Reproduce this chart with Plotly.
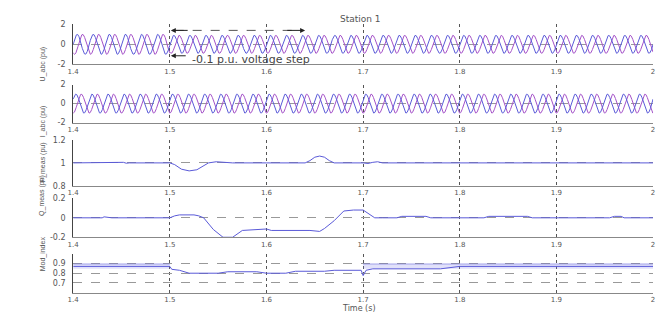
import numpy as np
import plotly.graph_objects as go

# ---- time base and sinusoidal quantities (60 Hz, per-unit) ----
t_start, t_end = 1.4, 2.0
f_hz = 60.0
t_step = 1.5                      # voltage step instant
u_amp_before, u_amp_after = 1.0, 0.9
i_amp = 1.0
phase_a, phase_b = 0.0, -2 * np.pi / 3

t = np.linspace(t_start, t_end, 4000)
u_amp = np.where(t < t_step, u_amp_before, u_amp_after)
u_a = u_amp * np.sin(2 * np.pi * f_hz * t + phase_a)
u_b = u_amp * np.sin(2 * np.pi * f_hz * t + phase_b)
i_a = i_amp * np.sin(2 * np.pi * f_hz * t + phase_a + 0.5)
i_b = i_amp * np.sin(2 * np.pi * f_hz * t + phase_b + 0.5)

# ---- measured active power (pu) ----
p_t = [1.40, 1.45, 1.452, 1.455, 1.458, 1.50, 1.505, 1.512, 1.52, 1.528, 1.535, 1.54,
       1.548, 1.555, 1.565, 1.60, 1.64, 1.645, 1.65, 1.655, 1.66, 1.665, 1.67, 1.70,
       1.705, 1.71, 1.715, 1.72, 1.73, 2.0]
p_v = [1.0, 1.0, 1.005, 0.997, 1.0, 1.0, 0.985, 0.945, 0.93, 0.94, 0.975, 1.0,
       1.01, 1.008, 1.0, 1.0, 1.0, 1.02, 1.05, 1.06, 1.05, 1.02, 1.0, 1.0,
       0.995, 1.005, 1.01, 1.0, 1.0, 1.0]

# ---- measured reactive power (pu) ----
q_t = [1.40, 1.43, 1.432, 1.436, 1.44, 1.50, 1.505, 1.51, 1.525, 1.53, 1.535, 1.545,
       1.555, 1.565, 1.575, 1.60, 1.605, 1.645, 1.655, 1.66, 1.67, 1.68, 1.69, 1.70,
       1.705, 1.712, 1.72, 1.735, 1.74, 1.765, 1.77, 1.825, 1.83, 1.87, 1.875, 1.955,
       1.96, 1.967, 1.97, 2.0]
q_v = [0.0, 0.0, 0.01, 0.005, 0.0, 0.0, 0.02, 0.03, 0.03, 0.02, 0.0, -0.12,
       -0.2, -0.2, -0.13, -0.115, -0.13, -0.13, -0.14, -0.11, -0.03, 0.07, 0.08, 0.08,
       0.05, 0.0, 0.0, 0.0, 0.015, 0.015, 0.0, 0.0, 0.015, 0.015, 0.0, 0.0,
       0.015, 0.015, 0.0, 0.0]

# ---- modulation index ----
m_t = [1.40, 1.50, 1.502, 1.51, 1.52, 1.55, 1.56, 1.59, 1.60, 1.62, 1.63, 1.66,
       1.67, 1.698, 1.70, 1.703, 1.71, 1.78, 1.80, 2.0]
m_v = [0.87, 0.87, 0.84, 0.83, 0.80, 0.80, 0.815, 0.815, 0.80, 0.80, 0.82, 0.82,
       0.83, 0.83, 0.775, 0.83, 0.845, 0.845, 0.87, 0.87]
# ripple envelope of the modulation index (start, end, lower, upper)
m_bands = [(1.40, 1.50, 0.845, 0.895), (1.70, 2.00, 0.845, 0.895)]

x_ticks = [1.4, 1.5, 1.6, 1.7, 1.8, 1.9, 2.0]
x_ticktext = ["1.4", "1.5", "1.6", "1.7", "1.8", "1.9", "2"]

panels = [
    dict(title="U_abc (pu)", yrange=[-2, 2], yticks=[-2, 0, 2], ytext=["-2", "0", "2"], dom=(62, 21)),
    dict(title="I_abc (pu)", yrange=[-2, 2], yticks=[-2, 0, 2], ytext=["-2", "0", "2"], dom=(122, 83)),
    dict(title="P_meas (pu)", yrange=[0.8, 1.2], yticks=[0.8, 1.0, 1.2], ytext=["0.8", "1", "1.2"], dom=(187, 140)),
    dict(title="Q_meas (pu)", yrange=[-0.2, 0.2], yticks=[-0.2, 0, 0.2], ytext=["-0.2", "0", "0.2"], dom=(240, 200)),
    dict(title="Mod_index", yrange=[0.6, 1.0], yticks=[0.7, 0.8, 0.9], ytext=["0.7", "0.8", "0.9"], dom=(297, 257)),
]

W, H = 661, 320
X0, X1 = 68, 655
FONT = "DejaVu Sans"
BLUE = "#5a5ad8"
PURPLE = "#a452c8"

fig = go.Figure()


def add(trace, k):
    trace.update(xaxis="x" if k == 1 else f"x{k}", yaxis="y" if k == 1 else f"y{k}")
    fig.add_trace(trace)


add(go.Scatter(x=t, y=u_b, mode="lines", line=dict(color=PURPLE, width=1)), 1)
add(go.Scatter(x=t, y=u_a, mode="lines", line=dict(color=BLUE, width=1)), 1)
add(go.Scatter(x=t, y=i_b, mode="lines", line=dict(color=PURPLE, width=1)), 2)
add(go.Scatter(x=t, y=i_a, mode="lines", line=dict(color=BLUE, width=1)), 2)
add(go.Scatter(x=p_t, y=p_v, mode="lines", line=dict(color=BLUE, width=1)), 3)
add(go.Scatter(x=q_t, y=q_v, mode="lines", line=dict(color=BLUE, width=1)), 4)
for b0, b1, lo, hi in m_bands:
    add(go.Scatter(x=[b0, b1, b1, b0, b0], y=[lo, lo, hi, hi, lo], mode="lines", fill="toself",
                   fillcolor="rgba(120,120,230,0.22)", line=dict(width=0)), 5)
    add(go.Scatter(x=[b0, b1], y=[hi, hi], mode="lines", line=dict(color="rgba(110,110,220,0.6)", width=1)), 5)
add(go.Scatter(x=m_t, y=m_v, mode="lines", line=dict(color=BLUE, width=1)), 5)

layout = dict(
    width=W, height=H, margin=dict(l=0, r=0, t=0, b=0),
    paper_bgcolor="white", plot_bgcolor="white", showlegend=False,
    font=dict(family=FONT, size=9, color="#444"),
)
for k, p in enumerate(panels, start=1):
    xa = "xaxis" if k == 1 else f"xaxis{k}"
    ya = "yaxis" if k == 1 else f"yaxis{k}"
    ybot, ytop = p["dom"]
    layout[xa] = dict(
        domain=[X0 / W, X1 / W], range=[t_start, t_end], anchor="y" if k == 1 else f"y{k}",
        tickvals=x_ticks, ticktext=x_ticktext, showgrid=True, gridcolor="#555",
        griddash="dot", gridwidth=1, showline=True, linecolor="#888", linewidth=1,
        ticks="", tickfont=dict(size=7, color="#555"), zeroline=False, ticklabelstandoff=0,
    )
    layout[ya] = dict(
        domain=[1 - ybot / H, 1 - ytop / H], range=p["yrange"], anchor="x" if k == 1 else f"x{k}",
        tickvals=p["yticks"], ticktext=p["ytext"], showgrid=True, gridcolor="#999",
        griddash="dash", gridwidth=1, showline=True, linecolor="#444", linewidth=1,
        ticks="", tickfont=dict(size=8, color="#555"), zeroline=False, ticklabelstandoff=5,
    )
fig.update_layout(**layout)

annotations = []
for k, p in enumerate(panels, start=1):
    ybot, ytop = p["dom"]
    annotations.append(dict(
        text=p["title"], xref="paper", yref="paper", x=31 / W, y=1 - (ybot + ytop) / 2 / H,
        textangle=-90, showarrow=False, font=dict(family="Liberation Sans Narrow, Liberation Sans", size=7, color="#555"),
    ))
annotations += [
    dict(text="Station 1", xref="paper", yref="paper", x=359 / W, y=1 - 8 / H,
         showarrow=False, font=dict(size=9, color="#555")),
    dict(text="Time (s)", xref="paper", yref="paper", x=357 / W, y=0, yanchor="bottom",
         showarrow=False, font=dict(size=8, color="#555")),
    # span arrow after the voltage step
    dict(x=1.501, y=1.4, ax=1.52, ay=1.4, xref="x", yref="y", axref="x", ayref="y",
         text="", showarrow=True, arrowhead=2, arrowsize=1, arrowwidth=1, arrowcolor="#222"),
    dict(x=1.64, y=1.4, ax=1.62, ay=1.4, xref="x", yref="y", axref="x", ayref="y",
         text="", showarrow=True, arrowhead=2, arrowsize=1, arrowwidth=1, arrowcolor="#222"),
    # step label with pointer
    dict(x=1.501, y=-1.15, ax=1.518, ay=-1.15, xref="x", yref="y", axref="x", ayref="y",
         text="", showarrow=True, arrowhead=2, arrowsize=1, arrowwidth=1, arrowcolor="#222"),
    dict(x=1.521, y=-1.5, xref="x", yref="y", text="-0.1 p.u. voltage step",
         xanchor="left", showarrow=False, font=dict(size=11, color="#444")),
]
fig.update_layout(annotations=annotations)
fig.add_shape(type="line", xref="x", yref="y", x0=1.505, x1=1.635, y0=1.4, y1=1.4,
              line=dict(color="#555", width=1, dash="dash"))

fig.write_html("out.html")
